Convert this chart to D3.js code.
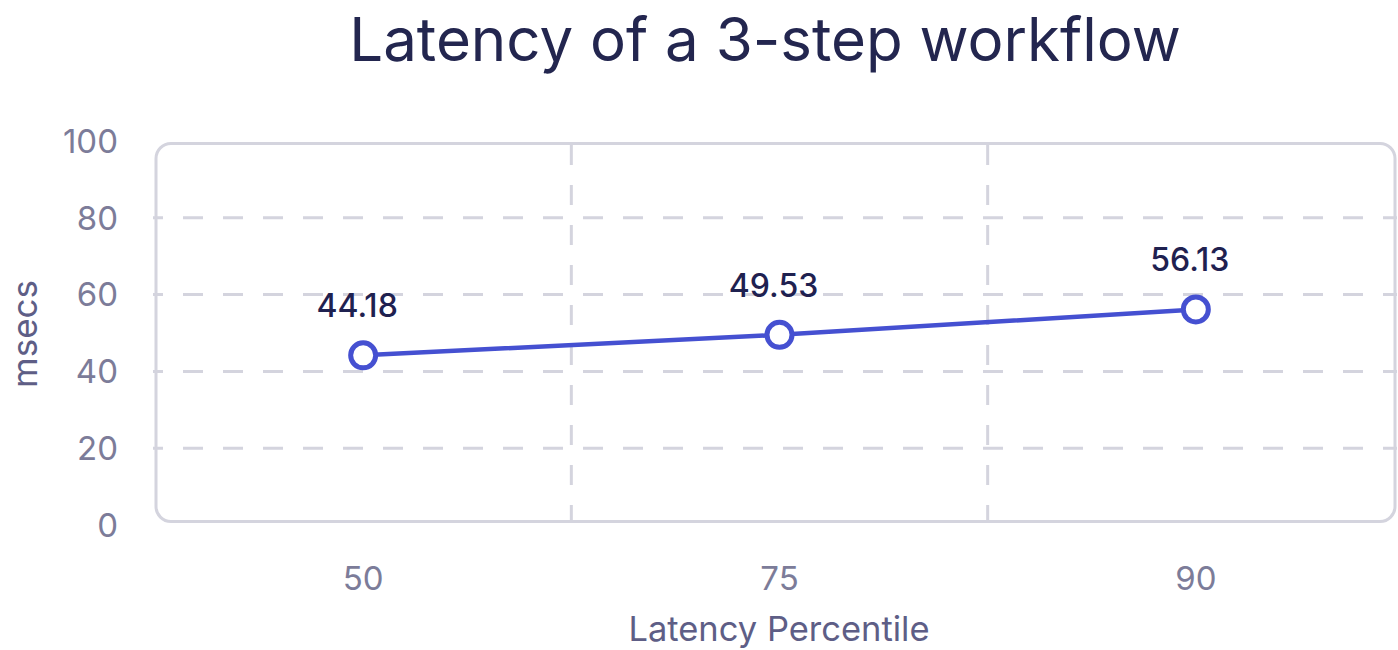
<!DOCTYPE html>
<html>
<head>
<meta charset="utf-8">
<script src="https://cdn.jsdelivr.net/npm/d3@7"></script>
<style>
  body { margin: 0; background: #fff; }
  text { font-family: Inter, "Noto Sans", sans-serif; }
</style>
</head>
<body>
<svg id="chart" width="1398" height="650"></svg>
<script>
// data
var percentiles = ["50", "75", "90"];
var latency = [44.18, 49.53, 56.13];
var yTicks = [0, 20, 40, 60, 80, 100];

var W = 1398, H = 650;

var svg = d3.select("#chart");

// band scale runs a bit past the right frame edge (as in the original)
var x = d3.scaleBand()
    .domain(percentiles)
    .range([155, 1404]);

var y = d3.scaleLinear()
    .domain([0, 100])
    .range([525, 141]);

// title
svg.append("text")
    .attr("x", 765)
    .attr("y", 61)
    .attr("text-anchor", "middle")
    .attr("font-size", 60)
    .attr("fill", "#23264f")
    .text("Latency of a 3-step workflow");

// horizontal grid
svg.append("g")
    .selectAll("line")
    .data(yTicks.filter(function(d) { return d > 0 && d < 100; }))
    .enter().append("line")
    .attr("x1", 153)
    .attr("x2", 1397)
    .attr("y1", function(d) { return y(d); })
    .attr("y2", function(d) { return y(d); })
    .attr("stroke", "#d4d4de")
    .attr("stroke-width", 3)
    .style("stroke-dasharray", "20,20")
    .style("stroke-dashoffset", "10");

// vertical grid at band boundaries
svg.append("g")
    .selectAll("line")
    .data(percentiles.slice(1))
    .enter().append("line")
    .attr("x1", function(d) { return x(d); })
    .attr("x2", function(d) { return x(d); })
    .attr("y1", 143)
    .attr("y2", 522)
    .attr("stroke", "#d4d4de")
    .attr("stroke-width", 3)
    .style("stroke-dasharray", "20,20")
    .style("stroke-dashoffset", "-2");

// plot frame
svg.append("rect")
    .attr("x", 156)
    .attr("y", 143.5)
    .attr("width", 1395 - 156)
    .attr("height", 521.5 - 143.5)
    .attr("rx", 15)
    .attr("fill", "none")
    .attr("stroke", "#d4d4de")
    .attr("stroke-width", 3);

// y axis labels
svg.append("g")
    .selectAll("text")
    .data(yTicks)
    .enter().append("text")
    .attr("x", 118)
    .attr("y", function(d) { return y(d); })
    .attr("dy", "0.36em")
    .attr("text-anchor", "end")
    .attr("font-size", 33)
    .attr("fill", "#7c7c99")
    .text(function(d) { return d; });

// x axis labels
svg.append("g")
    .selectAll("text")
    .data(percentiles)
    .enter().append("text")
    .attr("x", function(d) { return x(d) + x.bandwidth() / 2; })
    .attr("y", 590)
    .attr("text-anchor", "middle")
    .attr("font-size", 33)
    .attr("fill", "#7c7c99")
    .text(function(d) { return d; });

// axis titles
svg.append("text")
    .attr("transform", "translate(37,334) rotate(-90)")
    .attr("text-anchor", "middle")
    .attr("font-size", 35)
    .attr("fill", "#5e5e86")
    .text("msecs");

svg.append("text")
    .attr("x", 779)
    .attr("y", 641)
    .attr("text-anchor", "middle")
    .attr("font-size", 34.5)
    .attr("fill", "#5e5e86")
    .text("Latency Percentile");

// line
var pts = percentiles.map(function(p, i) { return {p: p, v: latency[i]}; });

var line = d3.line()
    .x(function(d) { return x(d.p) + x.bandwidth() / 2; })
    .y(function(d) { return y(d.v); });

svg.append("path")
    .datum(pts)
    .attr("d", line)
    .attr("fill", "none")
    .attr("stroke", "#4550d1")
    .attr("stroke-width", 4.5);

svg.selectAll(".dot")
    .data(pts)
    .enter().append("circle")
    .attr("class", "dot")
    .attr("cx", function(d) { return x(d.p) + x.bandwidth() / 2; })
    .attr("cy", function(d) { return y(d.v); })
    .attr("r", 12.5)
    .attr("fill", "#fff")
    .attr("stroke", "#4550d1")
    .attr("stroke-width", 5);

// value labels
svg.selectAll(".lbl")
    .data(pts)
    .enter().append("text")
    .attr("class", "lbl")
    .attr("x", function(d) { return x(d.p) + x.bandwidth() / 2 - 6; })
    .attr("y", function(d) { return y(d.v) - 38; })
    .attr("text-anchor", "middle")
    .attr("font-size", 32)
    .attr("font-weight", 500)
    .attr("fill", "#1f2150")
    .text(function(d) { return d.v.toFixed(2); });
</script>
</body>
</html>
